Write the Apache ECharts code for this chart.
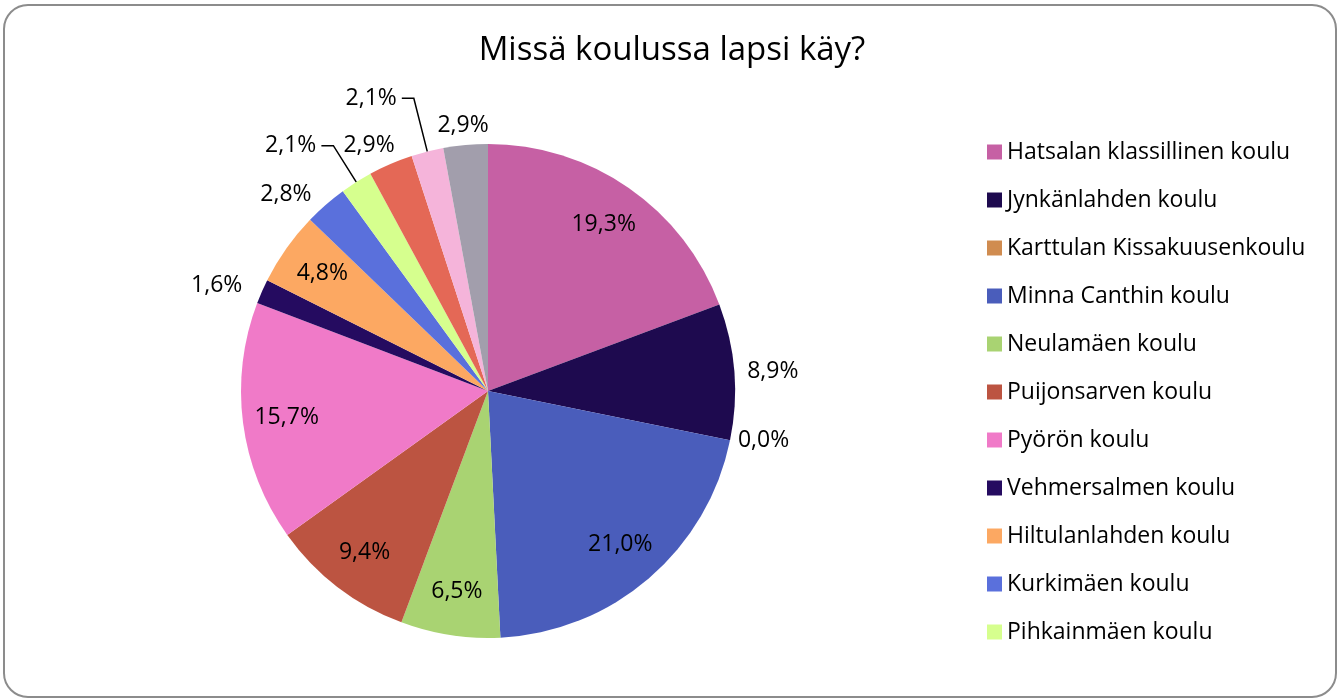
<!DOCTYPE html>
<html>
<head>
<meta charset="utf-8">
<script src="https://cdn.jsdelivr.net/npm/echarts@6/dist/echarts.min.js"></script>
<style>
  html, body { margin: 0; padding: 0; background: #fff; }
  #main { width: 1344px; height: 699px; }
</style>
</head>
<body>
<div id="main"></div>
<script>
// koulut ja osuudet (%)
var schools = [
    'Hatsalan klassillinen koulu', 'Jynkänlahden koulu', 'Karttulan Kissakuusenkoulu',
    'Minna Canthin koulu', 'Neulamäen koulu', 'Puijonsarven koulu', 'Pyörön koulu',
    'Vehmersalmen koulu', 'Hiltulanlahden koulu', 'Kurkimäen koulu', 'Pihkainmäen koulu',
    'Muu koulu 1', 'Muu koulu 2', 'Muu koulu 3'
];
var shares = [19.3, 8.9, 0.0, 21.0, 6.5, 9.4, 15.7, 1.6, 4.8, 2.8, 2.1, 2.9, 2.1, 2.9];
// legendassa näkyvät (kuvassa vain 11 ensimmäistä)
var legendNames = schools.slice(0, 11);

var colors = ['#c660a4', '#1e0a4f', '#d08c50', '#4a5dbb', '#a9d372', '#bc5441', '#f07ac8',
    '#250b60', '#fca862', '#5a70dc', '#d6ff8e', '#e46856', '#f5b4da', '#a29eac'];

// label placement (inside / outside), leader line lengths, text gap
var inside = [true, false, false, true, true, true, true, false, true, false, false, false, false, false];
var len1 = [8, 8, 3, 0, 0, 0, 0, 16, 0, 14, 43, 20, 55, 20];
var len2 = [0, 0, 0, 0, 0, 0, 0, 0, 0, 0, 12, 0, 12, 0];
var gap = [5, 5, 5, 5, 5, 5, 5, 5, 5, 5, 5, -12, 5, -25];
var leader = [false, false, false, false, false, false, false, false, false, false, true, false, true, false];

var fmt = function (p) {
    return p.value.toFixed(1).replace('.', ',') + '%';
};

var mainData = [], innerData = [];
for (var i = 0; i < schools.length; i++) {
    mainData.push({
        name: schools[i],
        value: shares[i],
        itemStyle: { color: colors[i] },
        label: { show: !inside[i], distanceToLabelLine: gap[i] },
        labelLine: { show: leader[i], length: len1[i], length2: len2[i] }
    });
    innerData.push({
        name: schools[i],
        value: shares[i],
        label: { show: inside[i] }
    });
}

var chart = echarts.init(document.getElementById('main'));
var option = {
    animation: false,
    title: {
        text: 'Missä koulussa lapsi käy?',
        left: 'center',
        top: 29,
        textStyle: {
            fontFamily: 'Open Sans',
            fontSize: 33,
            fontWeight: 'normal',
            color: '#000'
        }
    },
    legend: {
        orient: 'vertical',
        left: 982,
        top: 135,
        data: legendNames,
        icon: 'rect',
        itemWidth: 15,
        itemHeight: 15,
        itemGap: 24,
        textStyle: {
            fontFamily: 'Open Sans',
            fontSize: 23,
            lineHeight: 24,
            color: '#000'
        }
    },
    graphic: [{
        type: 'rect',
        shape: { x: 4, y: 5, width: 1332, height: 692, r: 24 },
        style: { fill: 'none', stroke: '#8c8c8c', lineWidth: 2 },
        silent: true
    }],
    series: [
        {
            type: 'pie',
            center: [488, 391],
            radius: 247,
            startAngle: 90,
            clockwise: true,
            avoidLabelOverlap: false,
            data: mainData,
            label: {
                position: 'outside',
                formatter: fmt,
                fontFamily: 'Open Sans',
                fontSize: 23,
                color: '#000'
            },
            labelLine: {
                lineStyle: { color: '#000', width: 1.5 }
            },
            emphasis: { disabled: true }
        },
        {
            type: 'pie',
            center: [488, 391],
            radius: [153, 247],
            startAngle: 90,
            clockwise: true,
            silent: true,
            avoidLabelOverlap: false,
            data: innerData,
            itemStyle: { color: 'rgba(0,0,0,0)' },
            label: {
                position: 'inside',
                formatter: fmt,
                fontFamily: 'Open Sans',
                fontSize: 23,
                color: '#000'
            },
            labelLine: { show: false }
        }
    ]
};
chart.setOption(option);
</script>
</body>
</html>
